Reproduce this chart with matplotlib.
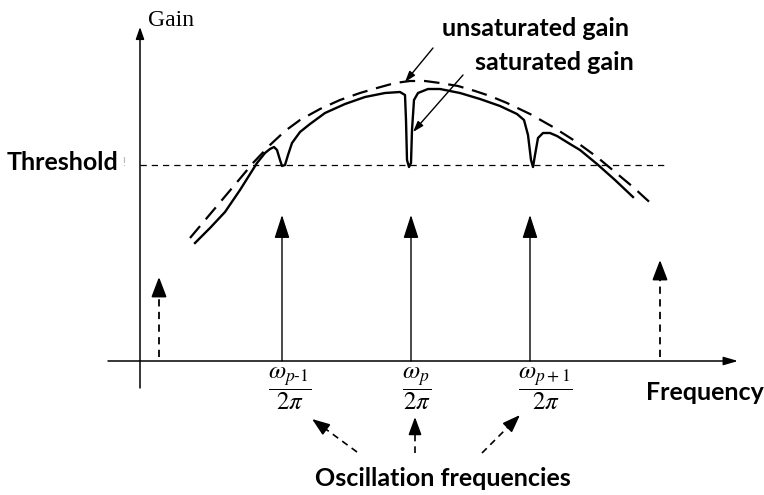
import numpy as np
import matplotlib
matplotlib.use("Agg")
import matplotlib.pyplot as plt

plt.rcParams['mathtext.fontset'] = 'stix'

# coordinates: frequency (x) and gain (y), origin where the axes cross
threshold = 196

# unsaturated gain curve (dashed)
unsat_f = [50, 66, 82, 98, 113, 130, 145, 160, 180, 200, 220, 237, 255, 270,
           285, 300, 318, 335, 350, 367, 390, 413, 435, 457, 475, 493, 505, 515]
unsat_g = [123, 142, 161, 180, 198, 216, 230, 241, 252, 261, 268, 273, 278, 280,
           280, 278, 275, 270, 265, 258, 247, 234, 220, 204, 189, 174, 163, 154]

# saturated gain curve (solid), with holes burnt at the lasing modes
sat_f = [55, 70, 85, 100, 117, 125, 130, 134, 137, 140, 142, 145, 148, 152,
         160, 170, 185, 205, 225, 245, 260,
         265, 266, 267, 269, 271, 272, 274, 278,
         288, 300, 320, 340, 360, 377, 384, 388, 391, 393, 395, 398, 403, 410,
         417, 430, 440, 457, 475, 493]
sat_g = [118, 133, 149, 171, 198, 208, 212, 214, 211, 201, 195, 196, 206, 218,
         229, 237, 248, 257, 264, 268, 269,
         266, 241, 201, 194, 198, 231, 261, 268,
         272, 272, 268, 262, 255, 247, 241, 226, 201, 194, 206, 223, 228, 228,
         225, 217, 211, 197, 181, 164]

# oscillating modes and the side modes below threshold
mode_f = [142, 271, 390]
mode_h = [146, 146, 146]
side_f = [19, 520]
side_h = [84, 101]
mode_labels = [r'$\dfrac{\omega_{p\text{-}1}}{2\pi}$',
               r'$\dfrac{\omega_p}{2\pi}$',
               r'$\dfrac{\omega_{p+1}}{2\pi}$']
label_f = [150, 277, 405]

fig = plt.figure(figsize=(7.64, 4.95), dpi=100)
ax = fig.add_axes([0, 0, 1, 1])
ax.set_xlim(-140, 624)
ax.set_ylim(-134, 361)
ax.axis('off')


def arrow(x0, y0, x1, y1, hl=20, hw=13, lw=1.0, dashed=False):
    # px -> pt (dpi 100)
    k = 72 / 100
    L = np.hypot(x1 - x0, y1 - y0)
    ux, uy = (x1 - x0) / L, (y1 - y0) / L
    if dashed:
        bx, by = x1 - ux * hl * 0.9, y1 - uy * hl * 0.9
        ax.plot([x0, bx], [y0, by], color='k', lw=lw, ls=(0, (4, 3)))
        x0, y0 = x1 - ux * hl, y1 - uy * hl
    style = '-|>,head_length=1,head_width=%.3f' % (hw / 2 / hl)
    ax.annotate('', xy=(x1, y1), xytext=(x0, y0),
                arrowprops=dict(arrowstyle=style, mutation_scale=hl * k,
                                color='k', lw=lw, shrinkA=0, shrinkB=0))


# axes
arrow(0, -27, 0, 334, hl=10, hw=7, lw=1.1)
arrow(-32, 0, 598, 0, hl=12, hw=7, lw=1.1)

# threshold
ax.plot([0, 527], [threshold, threshold], color='k', lw=0.9, ls=(0, (5, 4)))

# gain curves
ax.plot(unsat_f, unsat_g, color='k', lw=1.6, ls=(0, (7, 4)))
ax.plot(sat_f, sat_g, color='k', lw=1.7)

# mode arrows
for f, h in zip(mode_f, mode_h):
    arrow(f, 0, f, h, hl=20, hw=13, lw=1.0)
for f, h in zip(side_f, side_h):
    arrow(f, 4, f, h, hl=17, hw=13, lw=1.3, dashed=True)

for f, s in zip(label_f, mode_labels):
    ax.text(f, -28, s, fontsize=18, ha='center', va='center')

# labels
ax.text(31, 340, 'Gain', fontsize=17, family='Liberation Serif',
        ha='center', va='center')
ax.text(-22, 198, 'Threshold', fontsize=18, family='Lato', weight='bold',
        ha='right', va='center')
ax.text(-16, 198, '!', fontsize=9, color='#bbbbbb', ha='center', va='center')
ax.text(395, 333, 'unsaturated gain', fontsize=18, family='Lato',
        weight='bold', ha='center', va='center')
ax.text(414, 299, 'saturated gain', fontsize=18, family='Lato',
        weight='bold', ha='center', va='center')
ax.text(565, -32, 'Frequency', fontsize=18, family='Lato', weight='bold',
        ha='center', va='center')
ax.text(303, -117, 'Oscillation frequencies', fontsize=18, family='Lato',
        weight='bold', ha='center', va='center')

# pointers to the curves
arrow(293, 313, 265, 279, hl=9, hw=6, lw=1.0)
arrow(323, 286, 273, 229, hl=9, hw=6, lw=1.0)

# pointers to the oscillation frequencies
arrow(217, -91, 172, -58, hl=15, hw=11, lw=1.2, dashed=True)
arrow(275, -92, 275, -56, hl=15, hw=11, lw=1.2, dashed=True)
arrow(342, -92, 380, -54, hl=15, hw=11, lw=1.2, dashed=True)

fig.savefig('out.png', dpi=100)
